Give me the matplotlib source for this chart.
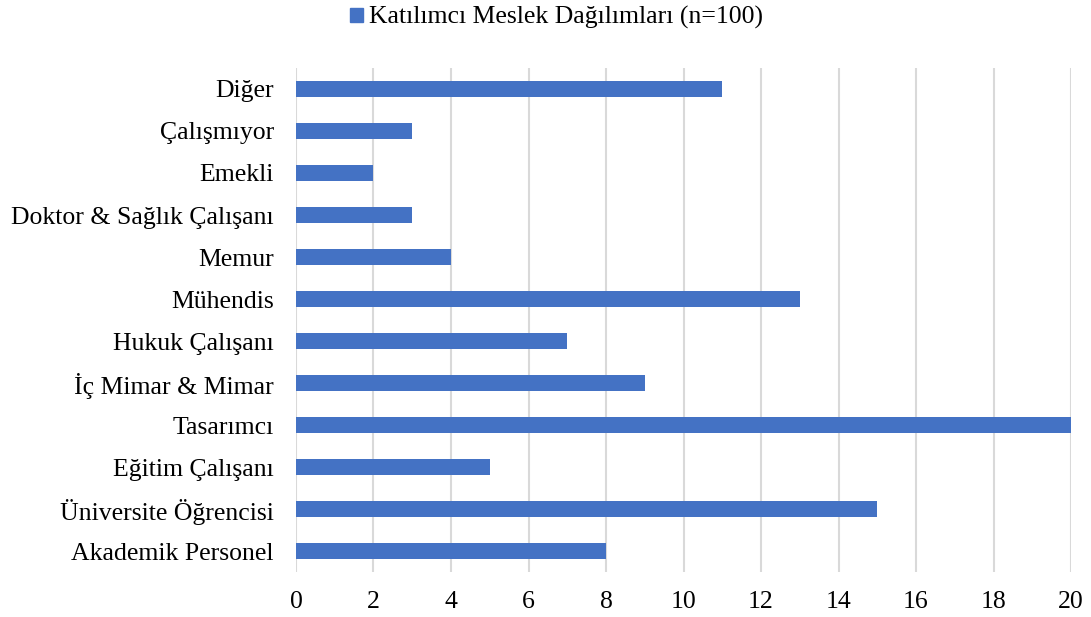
import matplotlib.pyplot as plt
from matplotlib.patches import Patch

plt.rcParams['font.family'] = ['Liberation Serif', 'DejaVu Serif']

categories = ['Akademik Personel', 'Üniversite Öğrencisi', 'Eğitim Çalışanı', 'Tasarımcı',
              'İç Mimar & Mimar', 'Hukuk Çalışanı', 'Mühendis', 'Memur',
              'Doktor & Sağlık Çalışanı', 'Emekli', 'Çalışmıyor', 'Diğer']
values = [8, 15, 5, 20, 9, 7, 13, 4, 3, 2, 3, 11]
series_name = 'Katılımcı Meslek Dağılımları (n=100)'
bar_color = '#4472C4'

fig = plt.figure(figsize=(10.91, 6.17), dpi=100)
ax = fig.add_axes([0.2713, 0.0729, 0.7104, 0.8169])

ax.barh(range(len(categories)), values, height=0.36, color=bar_color, zorder=3)
ax.set_yticks(range(len(categories)))
ax.set_yticklabels(categories)
ax.set_ylim(-0.5, 11.5)
ax.set_xlim(0, 20)
ax.set_xticks(range(0, 21, 2))

ax.grid(axis='x', color='#D9D9D9', linewidth=1.5, zorder=0)
for s in ax.spines.values():
    s.set_visible(False)
ax.tick_params(axis='both', length=0, labelsize=18.5)
ax.tick_params(axis='x', pad=14)
ax.tick_params(axis='y', pad=16)

fig.legend(handles=[Patch(color=bar_color, label=series_name)], loc='center',
           bbox_to_anchor=(0.51, 0.971), frameon=False, fontsize=18.5,
           handlelength=0.5, handleheight=0.5, handletextpad=0.25)

fig.savefig('out.png', dpi=100)
